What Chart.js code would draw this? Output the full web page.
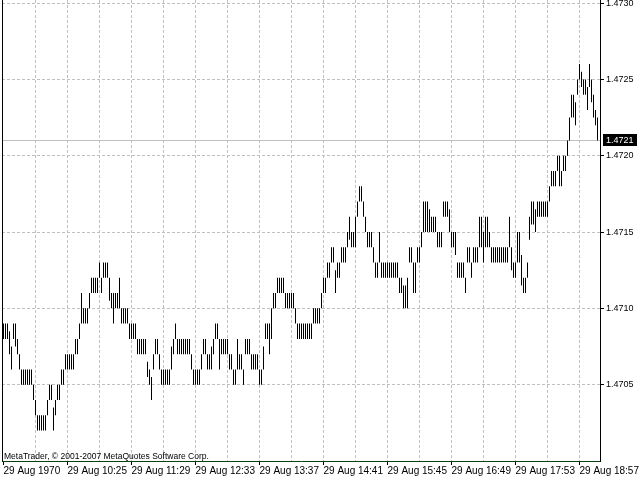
<!DOCTYPE html>
<html>
<head>
<meta charset="utf-8">
<script src="https://cdn.jsdelivr.net/npm/chart.js@4.4.1/dist/chart.umd.min.js"></script>
<style>
  html, body { margin: 0; padding: 0; background: #fff; }
  #wrap { width: 640px; height: 480px; }
</style>
</head>
<body>
<div id="wrap"><canvas id="chart" width="640" height="480"></canvas></div>
<script>
// bar lows / highs, one per bar
const lows = [
  1.4708,1.4708,1.4708,1.4707,1.4706,1.4708,1.47075,1.4707,1.4706,1.4705,
  1.4705,1.4705,1.4705,1.4705,1.4705,1.4704,1.4703,1.4702,1.4702,1.4702,
  1.4702,1.4702,1.4703,1.4704,1.4704,1.4702,1.4703,1.4704,1.4704,1.4705,
  1.4705,1.4706,1.4706,1.4706,1.4706,1.4706,1.4707,1.4707,1.4708,1.4709,
  1.4709,1.4709,1.4709,1.4710,1.4711,1.4711,1.4711,1.4711,1.4712,1.4711,
  1.4712,1.4712,1.4712,1.47105,1.4710,1.4709,1.4710,1.4710,1.4710,1.4709,
  1.4709,1.4709,1.4709,1.4708,1.4708,1.4708,1.4708,1.4707,1.4707,1.4707,
  1.4707,1.4707,1.47055,1.4705,1.4704,1.4706,1.4707,1.4707,1.4706,1.4705,
  1.4705,1.4705,1.4705,1.4705,1.4706,1.4707,1.4708,1.4707,1.4707,1.4707,
  1.4707,1.4707,1.4707,1.4707,1.4706,1.4705,1.4705,1.4705,1.4705,1.4706,
  1.4707,1.4707,1.4706,1.4706,1.4706,1.4707,1.4708,1.4708,1.4706,1.4707,
  1.4707,1.4707,1.4707,1.4706,1.4706,1.4705,1.4705,1.4706,1.4706,1.4706,
  1.4705,1.4707,1.4707,1.4707,1.4706,1.4706,1.4706,1.4706,1.4705,1.4705,
  1.4706,1.4708,1.4708,1.4707,1.4708,1.4710,1.4710,1.4711,1.4711,1.4711,
  1.4711,1.4710,1.4710,1.4710,1.4710,1.4710,1.4709,1.4708,1.4708,1.4708,
  1.4708,1.4708,1.4708,1.4708,1.4708,1.4709,1.4709,1.4709,1.4709,1.4710,
  1.4711,1.4711,1.4712,1.4712,1.4713,1.4713,1.4711,1.4712,1.4712,1.4713,
  1.4713,1.4713,1.4714,1.47145,1.4714,1.4714,1.4714,1.4716,1.4717,1.4717,
  1.4716,1.4715,1.4714,1.4714,1.4714,1.4713,1.4712,1.4712,1.4713,1.4712,
  1.4712,1.4712,1.4712,1.4712,1.4712,1.4712,1.4712,1.4712,1.4711,1.4711,
  1.4710,1.4710,1.4710,1.4713,1.4713,1.4711,1.4711,1.4713,1.4713,1.4714,
  1.4715,1.4715,1.4715,1.4715,1.4715,1.4715,1.4715,1.4714,1.4714,1.4714,
  1.4716,1.4716,1.4716,1.4715,1.4714,1.4714,1.47135,1.4712,1.4712,1.4712,
  1.4712,1.4711,1.4713,1.4713,1.4712,1.4713,1.4713,1.4713,1.4714,1.4714,
  1.4713,1.4714,1.4714,1.4714,1.4713,1.4713,1.4713,1.4713,1.4713,1.4713,
  1.4713,1.4713,1.4713,1.4714,1.47125,1.4712,1.4712,1.4713,1.4713,1.47115,
  1.4711,1.4711,1.4712,1.47145,1.47155,1.47155,1.4715,1.4716,1.4716,1.4716,
  1.4716,1.4716,1.4716,1.4717,1.4718,1.4718,1.4718,1.4719,1.4718,1.4718,
  1.4719,1.4719,1.4720,1.4721,1.47225,1.47225,1.4722,1.4724,1.4725,1.47245,
  1.4724,1.4724,1.4723,1.47245,1.47235,1.47225,1.4722,1.4721
];
const highs = [
  1.4709,1.4709,1.4709,1.47085,1.47075,1.4709,1.4709,1.4708,1.4707,1.4706,
  1.4706,1.4706,1.4706,1.4706,1.4706,1.4705,1.4704,1.4703,1.4703,1.4703,
  1.4703,1.4703,1.4704,1.4705,1.4705,1.47035,1.4704,1.4705,1.4705,1.4706,
  1.4706,1.4707,1.4707,1.4707,1.4707,1.4707,1.4708,1.4708,1.4709,1.4711,
  1.4710,1.4710,1.4710,1.4711,1.4712,1.4712,1.4712,1.4712,1.4713,1.4712,
  1.4713,1.4713,1.4713,1.4712,1.4711,1.4711,1.4711,1.4711,1.4712,1.4710,
  1.4710,1.4710,1.4710,1.4709,1.4709,1.4709,1.4709,1.4708,1.4708,1.4708,
  1.4708,1.4708,1.47065,1.4706,1.47055,1.4707,1.4708,1.4708,1.4707,1.4706,
  1.4706,1.4706,1.4706,1.4706,1.47075,1.4708,1.4709,1.4708,1.4708,1.4708,
  1.4708,1.4708,1.4708,1.4708,1.4707,1.4706,1.4706,1.4706,1.4706,1.4707,
  1.4708,1.4708,1.4707,1.4707,1.47075,1.4708,1.4709,1.4709,1.4708,1.4708,
  1.4708,1.4708,1.4708,1.4707,1.4707,1.4706,1.4706,1.4708,1.4707,1.4707,
  1.4706,1.4708,1.4708,1.4708,1.4707,1.4707,1.4707,1.4707,1.4706,1.4706,
  1.47075,1.4709,1.4709,1.4709,1.4710,1.4711,1.4711,1.4712,1.4712,1.4712,
  1.4712,1.4711,1.4711,1.4711,1.4711,1.4711,1.4710,1.4709,1.4709,1.4709,
  1.4709,1.4709,1.4709,1.4709,1.4709,1.4710,1.4710,1.4710,1.4710,1.4711,
  1.4712,1.4712,1.4713,1.4713,1.4714,1.4714,1.47125,1.4713,1.4713,1.4714,
  1.4714,1.4714,1.4715,1.4716,1.4715,1.4715,1.4716,1.4717,1.4718,1.4718,
  1.4717,1.4716,1.4715,1.4715,1.4715,1.4714,1.4713,1.4713,1.4715,1.4713,
  1.4713,1.4713,1.4713,1.4713,1.4713,1.4713,1.4713,1.4713,1.4712,1.4712,
  1.47115,1.47115,1.4712,1.4714,1.4714,1.4713,1.4713,1.4714,1.4714,1.4715,
  1.4717,1.4717,1.4717,1.47165,1.4716,1.4716,1.4716,1.4715,1.4715,1.4715,
  1.4717,1.4717,1.4717,1.47165,1.4715,1.4715,1.4715,1.4713,1.4713,1.4713,
  1.4713,1.4712,1.4714,1.4714,1.4713,1.4714,1.4714,1.4714,1.4716,1.4716,
  1.4715,1.4716,1.4716,1.4715,1.4714,1.4714,1.4714,1.4714,1.4714,1.4714,
  1.4714,1.4714,1.4714,1.4716,1.4714,1.4713,1.4713,1.4715,1.4715,1.47135,
  1.4712,1.4712,1.4713,1.4716,1.4717,1.4717,1.47165,1.4717,1.4717,1.4717,
  1.4717,1.4717,1.4717,1.4718,1.4719,1.4719,1.4719,1.4720,1.4720,1.4719,
  1.4720,1.4720,1.4721,1.47225,1.4724,1.4724,1.47235,1.4725,1.4726,1.47255,
  1.4725,1.4725,1.47245,1.4726,1.4725,1.4724,1.4723,1.47225
];

const timeLabels = ['29 Aug 1970', '29 Aug 10:25', '29 Aug 11:29', '29 Aug 12:33', '29 Aug 13:37',
                    '29 Aug 14:41', '29 Aug 15:45', '29 Aug 16:49', '29 Aug 17:53', '29 Aug 18:57'];
const priceTicks = [1.4705, 1.4710, 1.4715, 1.4720, 1.4725, 1.4730];
const bidPrice = 1.4721;
const copyright = 'MetaTrader, \u00a9 2001-2007 MetaQuotes Software Corp.';

const GRID = '#c0c0c0';
const LABEL_EVERY = 32;  // bars between time labels
const GRID_EVERY = 16;   // bars between vertical grid lines

Chart.defaults.font.family = '"Liberation Sans", Arial, sans-serif';
Chart.defaults.color = '#000';

const bars = lows.map((lo, i) => ({ x: i, y: [lo, highs[i]] }));

// bid line, left border, copyright and bid box
const mtExtras = {
  id: 'mtExtras',
  beforeDatasetsDraw(chart) {
    const ctx = chart.ctx, a = chart.chartArea;
    const y = Math.round(chart.scales.y.getPixelForValue(bidPrice)) + 0.5;
    ctx.save();
    ctx.strokeStyle = GRID;
    ctx.lineWidth = 1;
    ctx.beginPath();
    ctx.moveTo(a.left, y);
    ctx.lineTo(a.right, y);
    ctx.stroke();
    ctx.restore();
  },
  afterDraw(chart) {
    const ctx = chart.ctx, a = chart.chartArea;
    ctx.save();
    ctx.strokeStyle = '#000';
    ctx.lineWidth = 1;
    ctx.beginPath();
    ctx.moveTo(a.left + 0.5, a.top);
    ctx.lineTo(a.left + 0.5, a.bottom);
    ctx.stroke();

    ctx.fillStyle = '#000';
    ctx.font = '8.5px "Liberation Sans", Arial, sans-serif';
    ctx.textBaseline = 'alphabetic';
    ctx.textAlign = 'left';
    ctx.fillText(copyright, a.left + 2, a.bottom - 2.5);

    const y = Math.round(chart.scales.y.getPixelForValue(bidPrice));
    ctx.fillRect(a.right + 3, y - 6, 34, 12);
    ctx.fillStyle = '#fff';
    ctx.font = '9px "Liberation Sans", Arial, sans-serif';
    ctx.textBaseline = 'middle';
    ctx.fillText(bidPrice.toFixed(4), a.right + 6, y + 0.5);
    ctx.restore();
  }
};

new Chart(document.getElementById('chart'), {
  type: 'bar',
  data: {
    datasets: [{
      data: bars,
      backgroundColor: '#000',
      borderWidth: 0,
      barThickness: 1,
      inflateAmount: 0
    }]
  },
  options: {
    responsive: false,
    animation: false,
    devicePixelRatio: 1,
    layout: { padding: { left: 2, top: 0, right: 0, bottom: 0 } },
    plugins: { legend: { display: false }, tooltip: { enabled: false } },
    scales: {
      x: {
        type: 'linear',
        min: -0.75,
        max: 298.25,
        offset: false,
        afterBuildTicks: s => {
          s.ticks = [];
          for (let v = 0; v < lows.length; v += GRID_EVERY) s.ticks.push({ value: v });
        },
        afterFit: s => { s.height = 19; s.paddingLeft = 0; s.paddingRight = 0; },
        grid: {
          offset: false,
          color: c => (c.tick && c.tick.value > 0) ? GRID : 'transparent',
          tickColor: c => (c.tick && c.tick.value % LABEL_EVERY === 0) ? '#000' : 'transparent',
          tickLength: 4
        },
        border: { color: '#0d3f0d', dash: [3, 2] },
        ticks: {
          autoSkip: false,
          maxRotation: 0,
          align: 'start',
          padding: 0,
          font: { size: 10 },
          callback: v => v % LABEL_EVERY === 0 ? timeLabels[v / LABEL_EVERY] : ''
        }
      },
      y: {
        position: 'right',
        min: 1.4700,
        max: 1.47302,
        afterBuildTicks: s => { s.ticks = priceTicks.map(v => ({ value: v })); },
        afterFit: s => { s.width = 40; s.paddingTop = 0; s.paddingBottom = 0; },
        grid: { color: GRID, tickColor: '#000', tickLength: 4 },
        border: { color: '#000', dash: [3, 2] },
        ticks: { padding: 2, font: { size: 9 }, callback: v => v.toFixed(4) }
      }
    }
  },
  plugins: [mtExtras]
});
</script>
</body>
</html>
